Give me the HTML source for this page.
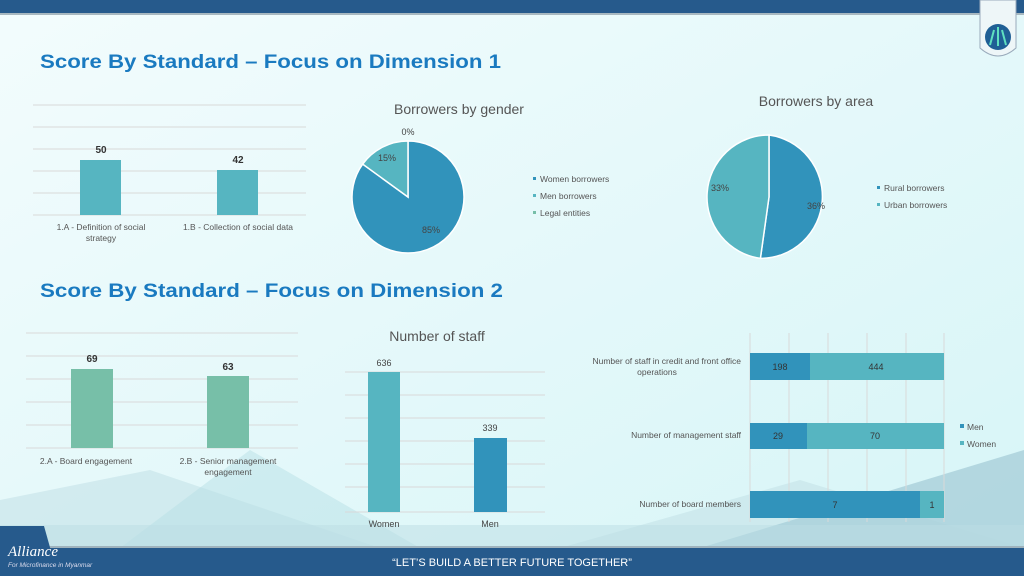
<!DOCTYPE html>
<html><head><meta charset="utf-8"><style>
html,body{margin:0;padding:0;}
body{width:1024px;height:576px;overflow:hidden;position:relative;font-family:"Liberation Sans",sans-serif;}
svg{position:absolute;left:0;top:0;}
</style></head><body>
<svg width="1024" height="576" viewBox="0 0 1024 576" font-family="Liberation Sans, sans-serif">
<defs>
<linearGradient id="bg" x1="0" y1="0" x2="1" y2="1">
<stop offset="0" stop-color="#f3fcfd"/><stop offset="1" stop-color="#d6f5f7"/>
</linearGradient>
</defs>
<rect width="1024" height="576" fill="url(#bg)"/>
<!-- lower background shapes -->
<polygon points="0,548 0,500 150,470 380,548" fill="#c9e6ea" opacity="0.7"/>
<polygon points="120,548 250,450 420,548" fill="#b8e0e6" opacity="0.5"/>
<polygon points="560,548 800,480 1024,548" fill="#c4e3e8" opacity="0.6"/>
<polygon points="700,548 1024,450 1024,548" fill="#a9cfd9" opacity="0.8"/>
<polygon points="0,548 0,525 1024,525 1024,548" fill="#bcdde3" opacity="0.5"/>
<!-- top bar -->
<rect x="0" y="0" width="1024" height="13" fill="#265a8c"/>
<rect x="0" y="13" width="1024" height="2" fill="#a8b8c0"/>
<!-- logo badge -->
<path d="M980,0 L1016,0 L1016,48 Q998,64 980,48 Z" fill="#eef6f8" stroke="#9ab" stroke-width="1"/>
<circle cx="998" cy="37" r="13" fill="#1f5f95"/>
<path d="M990,45 L994,30 M998,46 L998,27 M1006,45 L1002,30" stroke="#5fe0c0" stroke-width="2"/>
<!-- bottom bar -->
<rect x="0" y="548" width="1024" height="28" fill="#265a8c"/>
<rect x="0" y="546" width="1024" height="2" fill="#9fb3bd"/>
<polygon points="0,526 44,526 58,576 0,576" fill="#265a8c"/>
<text x="8" y="556" fill="#fff" font-family="Liberation Serif, serif" font-style="italic" font-size="15">Alliance</text>
<text x="8" y="567" fill="#dde" font-size="6.5" font-style="italic">For Microfinance in Myanmar</text>
<text x="512" y="566" fill="#fff" font-size="11" text-anchor="middle">“LET’S BUILD A BETTER FUTURE TOGETHER”</text>
<!-- titles -->
<text x="40" y="68" fill="#1a7ac0" font-size="19" font-weight="bold" textLength="461" lengthAdjust="spacingAndGlyphs">Score By Standard – Focus on Dimension 1</text>
<text x="40" y="297" fill="#1a7ac0" font-size="19" font-weight="bold" textLength="463" lengthAdjust="spacingAndGlyphs">Score By Standard – Focus on Dimension 2</text>
<!-- chart 1 -->
<g stroke="#d9d9d9" stroke-width="1">
<line x1="33" x2="306" y1="105" y2="105"/><line x1="33" x2="306" y1="127" y2="127"/><line x1="33" x2="306" y1="149" y2="149"/><line x1="33" x2="306" y1="171" y2="171"/><line x1="33" x2="306" y1="193" y2="193"/><line x1="33" x2="306" y1="215" y2="215"/>
</g>
<rect x="80" y="160" width="41" height="55" fill="#56b5c1"/>
<rect x="217" y="170" width="41" height="45" fill="#56b5c1"/>
<g font-size="10" fill="#333" text-anchor="middle" font-weight="bold"><text x="101" y="153">50</text><text x="238" y="163">42</text></g>
<g font-size="8.5" fill="#555" text-anchor="middle">
<text x="101" y="230">1.A - Definition of social</text><text x="101" y="241">strategy</text>
<text x="238" y="230">1.B - Collection of social data</text></g>
<!-- gender pie -->
<text x="459" y="114" font-size="14" fill="#555" text-anchor="middle">Borrowers by gender</text>
<path d="M408,197 L408,141 A56,56 0 1 1 362.7,164.1 Z" fill="#3193bb" stroke="#fff" stroke-width="1.5"/>
<path d="M408,197 L362.7,164.1 A56,56 0 0 1 408,141 Z" fill="#56b5c1" stroke="#fff" stroke-width="1.5"/>
<g font-size="9" fill="#444" text-anchor="middle"><text x="408" y="135">0%</text><text x="387" y="161">15%</text><text x="431" y="233">85%</text></g>
<g font-size="8.5" fill="#555">
<rect x="533" y="177" width="3" height="3" fill="#3193bb"/><text x="540" y="182">Women borrowers</text>
<rect x="533" y="194" width="3" height="3" fill="#56b5c1"/><text x="540" y="199">Men borrowers</text>
<rect x="533" y="211" width="3" height="3" fill="#77bfa8"/><text x="540" y="216">Legal entities</text></g>
<!-- area pie -->
<text x="816" y="106" font-size="14" fill="#555" text-anchor="middle">Borrowers by area</text>
<path d="M769,197 L769,135 A62,62 0 0 1 760.4,258.4 Z" fill="#3193bb" stroke="#fff" stroke-width="1.5"/>
<path d="M769,197 L760.4,258.4 A62,62 0 0 1 769,135 Z" fill="#56b5c1" stroke="#fff" stroke-width="1.5"/>
<g font-size="9" fill="#444" text-anchor="middle"><text x="720" y="191">33%</text><text x="816" y="209">36%</text></g>
<g font-size="8.5" fill="#555">
<rect x="877" y="186" width="3" height="3" fill="#3193bb"/><text x="884" y="191">Rural borrowers</text>
<rect x="877" y="203" width="3" height="3" fill="#56b5c1"/><text x="884" y="208">Urban borrowers</text></g>
<!-- chart 2 -->
<g stroke="#d9d9d9" stroke-width="1">
<line x1="26" x2="298" y1="333" y2="333"/><line x1="26" x2="298" y1="356" y2="356"/><line x1="26" x2="298" y1="379" y2="379"/><line x1="26" x2="298" y1="402" y2="402"/><line x1="26" x2="298" y1="425" y2="425"/><line x1="26" x2="298" y1="448" y2="448"/>
</g>
<rect x="71" y="369" width="42" height="79" fill="#77bfa8"/>
<rect x="207" y="376" width="42" height="72" fill="#77bfa8"/>
<g font-size="10" fill="#333" text-anchor="middle" font-weight="bold"><text x="92" y="362">69</text><text x="228" y="370">63</text></g>
<g font-size="8.5" fill="#555" text-anchor="middle">
<text x="86" y="464">2.A - Board engagement</text>
<text x="228" y="464">2.B - Senior management</text><text x="228" y="475">engagement</text></g>
<!-- staff -->
<text x="437" y="341" font-size="14" fill="#555" text-anchor="middle">Number of staff</text>
<g stroke="#d9d9d9" stroke-width="1">
<line x1="345" x2="545" y1="372" y2="372"/><line x1="345" x2="545" y1="395" y2="395"/><line x1="345" x2="545" y1="418" y2="418"/><line x1="345" x2="545" y1="441" y2="441"/><line x1="345" x2="545" y1="464" y2="464"/><line x1="345" x2="545" y1="487" y2="487"/><line x1="345" x2="545" y1="512" y2="512"/>
</g>
<rect x="368" y="372" width="32" height="140" fill="#56b5c1"/>
<rect x="474" y="438" width="33" height="74" fill="#3193bb"/>
<g font-size="9" fill="#444" text-anchor="middle"><text x="384" y="366">636</text><text x="490" y="431">339</text>
<text x="384" y="527">Women</text><text x="490" y="527">Men</text></g>
<!-- horizontal stacked -->
<g stroke="#d9d9d9" stroke-width="1">
<line x1="750" x2="750" y1="333" y2="522"/><line x1="789" x2="789" y1="333" y2="522"/><line x1="828" x2="828" y1="333" y2="522"/><line x1="867" x2="867" y1="333" y2="522"/><line x1="906" x2="906" y1="333" y2="522"/><line x1="944" x2="944" y1="333" y2="522"/>
</g>
<rect x="750" y="353" width="60" height="27" fill="#3193bb"/><rect x="810" y="353" width="134" height="27" fill="#56b5c1"/>
<rect x="750" y="423" width="57" height="26" fill="#3193bb"/><rect x="807" y="423" width="137" height="26" fill="#56b5c1"/>
<rect x="750" y="491" width="170" height="27" fill="#3193bb"/><rect x="920" y="491" width="24" height="27" fill="#56b5c1"/>
<g font-size="9" fill="#333" text-anchor="middle">
<text x="780" y="370">198</text><text x="876" y="370">444</text>
<text x="778" y="439">29</text><text x="875" y="439">70</text>
<text x="835" y="508">7</text><text x="932" y="508">1</text></g>
<g font-size="8.5" fill="#555" text-anchor="end">
<text x="741" y="364">Number of staff in credit and front office</text>
<text x="657" y="375" text-anchor="middle">operations</text>
<text x="741" y="438">Number of management staff</text>
<text x="741" y="507">Number of board members</text></g>
<g font-size="8.5" fill="#555">
<rect x="960" y="424" width="4" height="4" fill="#3193bb"/><text x="967" y="430">Men</text>
<rect x="960" y="441" width="4" height="4" fill="#56b5c1"/><text x="967" y="447">Women</text></g>
</svg>
</body></html>
